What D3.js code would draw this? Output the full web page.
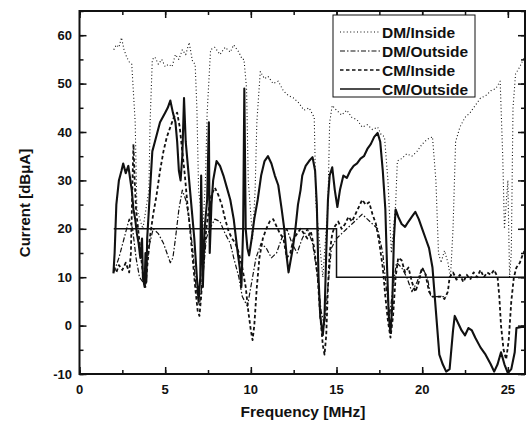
<!DOCTYPE html>
<html><head><meta charset="utf-8">
<script src="https://cdn.jsdelivr.net/npm/d3@7"></script>
<style>body{margin:0;background:#fff}svg{display:block}text{font-family:"Liberation Sans",Arial,sans-serif;font-weight:bold;fill:#111}</style>
</head><body><svg id="c" width="529" height="423"></svg>
<script>
// ---- data ----
const seriesNames = ["DM/Inside", "DM/Outside", "CM/Inside", "CM/Outside"];
const xTicks = [0, 5, 10, 15, 20, 25];
const yTicks = [-10, 0, 10, 20, 30, 40, 50, 60];

const dmInsideF = [2.0,2.15,2.3,2.45,2.6,2.75,2.9,3.05,3.25,3.35,3.7,4.05,4.12,4.25,4.4,4.6,4.8,5.0,5.2,5.4,5.6,5.8,6.0,6.2,6.4,6.6,6.75,6.85,6.95,7.2,7.35,7.45,7.65,7.9,8.2,8.5,8.8,9.0,9.3,9.5,9.6,9.75,9.85,10.1,10.25,10.35,10.55,10.8,11.0,11.3,11.6,11.9,12.2,12.5,12.8,13.1,13.4,13.7,13.8,14.2,14.5,14.6,14.75,15.0,15.3,15.6,15.9,16.2,16.5,16.8,17.1,17.4,17.6,17.8,18.0,18.2,18.45,18.55,18.8,19.1,19.4,19.7,20.0,20.3,20.6,20.8,20.95,21.1,21.3,21.5,21.65,21.8,21.95,22.2,22.5,22.8,23.1,23.4,23.7,24.0,24.3,24.55,24.7,24.8,24.9,25.0,25.1,25.2,25.3,25.45,25.7,25.9,26.0];
const dmInsideV = [57,58,57.5,59.5,57,55.5,54.5,54,42,24,20,28,42,55,55.5,54,55,53.5,54,53.5,56,55,57,56,58.5,54.5,54,45,28,20,30,44,57,57.5,56,57.5,56.5,58,56.5,55,55,49,30,18,28,42,52.5,51,51.5,50,50.5,48.5,47.5,47,46,44.5,45,43,25,10,25,42,45.5,44.5,43.5,44.5,43,42.5,41,41.5,40.5,41,39.5,39,30,15,25,34,34.5,35.5,35,36,37.5,38.5,39,30,15,13,15.5,13,10,20,38,41,43,44,45.5,47,47.5,48.5,49,50.5,35,20,25,30,10,15,45,52,53.5,55,56];

const dmOutsideF = [2.0,2.3,2.6,2.9,3.1,3.3,3.5,3.7,3.9,4.1,4.3,4.6,4.9,5.1,5.3,5.45,5.6,5.8,6.0,6.2,6.4,6.6,6.8,7.0,7.2,7.4,7.6,7.9,8.2,8.5,8.8,9.0,9.3,9.5,9.8,10.0,10.3,10.6,10.9,11.2,11.5,11.8,12.1,12.4,12.7,13.0,13.3,13.6,13.9,14.1,14.3,14.5,14.7,15.0,15.3,15.6,15.9,16.2,16.5,16.8,17.1,17.4,17.7,17.9,18.1,18.3,18.5,18.8,19.1,19.4,19.7,20.0,20.3,20.5,20.8,21.0,21.2,21.4];
const dmOutsideV = [11,14,18,22,20,14,10,9,12,17,20,19,17,15,13,14,18,24,28,26,22,16,8,4,10,18,20,22,21.5,19,17,14,10,6,4,8,14,17,16,14,15,18,20,17,15,18,20,17,10,3,0,8,16,18,19,20,21,22,23,22,21,20,15,8,2,8,13,12,10,7,9,12,10,6,6,6,6,6];

const cmInsideF = [2.0,2.15,2.3,2.5,2.7,2.9,3.0,3.08,3.15,3.22,3.3,3.45,3.6,3.75,3.85,3.95,4.1,4.3,4.5,4.7,4.9,5.1,5.3,5.5,5.7,5.85,6.0,6.15,6.3,6.45,6.6,6.75,6.9,7.0,7.1,7.25,7.4,7.55,7.7,7.9,8.1,8.3,8.5,8.7,8.9,9.1,9.3,9.5,9.7,9.85,10.0,10.1,10.2,10.35,10.5,10.7,10.9,11.1,11.3,11.5,11.7,11.9,12.1,12.3,12.5,12.7,12.9,13.1,13.3,13.5,13.7,13.9,14.05,14.2,14.3,14.4,14.5,14.6,14.75,14.9,15.1,15.3,15.5,15.7,15.9,16.1,16.3,16.5,16.7,16.9,17.1,17.3,17.5,17.7,17.85,18.0,18.15,18.3,18.45,18.6,18.8,19.0,19.2,19.4,19.6,19.8,20.0,20.2,20.4,20.6,20.9,21.1,21.3,21.5,21.6,21.8,22.0,22.2,22.4,22.6,22.8,23.0,23.2,23.4,23.6,23.8,24.0,24.2,24.4,24.5,24.6,24.75,24.9,25.05,25.2,25.35,25.5,25.7,25.9,26.0];
const cmInsideV = [12,11,12.5,11.5,13,11,15,28,37.5,30,24,19,14,9,8,12,18,23,27,32,36,39,41,43,44,41,36,31,25,20,14,8,3,2,6,14,20,24,27,28.5,27,25,22,19.5,18,17,15,12,8,3,-1,-3,0,8,14,18,20,21.5,22,20.5,19,18,14,15,18,19,20,19,18,19.5,16,10,2,-4,-6,-2,8,15,19,20.5,21.5,20,21,22.5,21.5,23,24.5,26,25,25.5,23,21,17,12,6,1,-2.5,2,10,14,13.5,11,12,9,7,9,12,10.5,7,6,6,6,5.5,7,10,11,9.5,10.5,9,10.5,9.5,11,10,11.5,10,11,10.5,11.5,10,6,0,-5,-7,-3,5,10,12,13,15,15.5];

const cmOutsideF = [1.98,2.05,2.15,2.3,2.45,2.55,2.7,2.85,2.95,3.05,3.15,3.25,3.35,3.45,3.55,3.65,3.7,3.8,3.85,3.9,3.95,4.05,4.15,4.25,4.4,4.55,4.7,4.85,5.0,5.15,5.3,5.45,5.6,5.7,5.8,5.9,6.0,6.1,6.2,6.3,6.45,6.55,6.7,6.85,6.95,7.05,7.1,7.2,7.3,7.45,7.55,7.6,7.7,7.8,8.0,8.2,8.4,8.6,8.8,9.0,9.2,9.35,9.45,9.55,9.62,9.7,9.8,9.9,10.05,10.2,10.4,10.6,10.8,11.0,11.2,11.4,11.6,11.8,11.95,12.1,12.2,12.3,12.45,12.6,12.75,12.9,13.0,13.2,13.4,13.6,13.75,13.85,13.95,14.05,14.2,14.3,14.4,14.5,14.6,14.75,14.9,15.05,15.2,15.4,15.6,15.8,16.0,16.2,16.4,16.6,16.8,17.0,17.2,17.4,17.55,17.7,17.85,17.95,18.05,18.15,18.25,18.35,18.45,18.6,18.8,19.0,19.2,19.4,19.6,19.8,20.0,20.2,20.4,20.6,20.8,21.0,21.2,21.4,21.6,21.8,21.9,22.1,22.3,22.5,22.7,22.9,23.1,23.4,23.7,24.0,24.2,24.4,24.6,24.8,25.0,25.2,25.4,25.5,25.8,26.0];
const cmOutsideV = [10.8,15,25,30,32,33.5,31.5,33,30.5,28,24,22,19,17,14,18,10,8,15,9,18,24,30,36,38,40,42,43,44,45,46.5,44,42,38,32,30,35,47,38,34,28,24,18,10,5,10,31,8,20,26,42,15,25,30,34,33,31,28.5,26,22,16,12,8,20,49,20,16,14.5,18,22,26,31,34,35,33.5,31,29,24,20,14,11,13,16,20,25,28,31,33,34,34.8,32,25,10,2,-2,2,15,26,31,32.7,28,24.5,28,31,30.5,32,33,33.5,34.5,35,36.5,37.5,39,39.8,38,32,24,12,2,-1.5,4,18,24,22.5,21,20.4,21.5,22.5,23.5,22,20,18,16,12,3,-6,-8,-9.5,-9,-1,2,0.5,-1,-2,-0.5,-1,-2.5,-4.5,-6,-8,-9.5,-8,-5.5,-8,-9.8,-9,-5.5,-0.5,-0.3,-0.3];

const limitF = [2, 15, 15, 26];
const limitV = [20, 20, 10, 10];

// ---- layout ----
const svg = d3.select("#c");
const x = d3.scaleLinear().domain([0, 26]).range([79.5, 525]);
const y = d3.scaleLinear().domain([-10, 65]).range([374, 11]);

svg.append("clipPath").attr("id","clip").append("rect")
  .attr("x", x(0)).attr("y", y(65)).attr("width", x(26)-x(0)).attr("height", y(-10)-y(65));

const plot = svg.append("g").attr("clip-path","url(#clip)");
const line = d3.line().x(d => x(d[0])).y(d => y(d[1]));
const zip = (f, v) => f.map((d, i) => [d, v[i]]);

const styles = [
  {f: dmInsideF, v: dmInsideV, w: 1.1, dash: "1,2.4"},
  {f: dmOutsideF, v: dmOutsideV, w: 1.2, dash: "5,2,1.5,2"},
  {f: cmInsideF, v: cmInsideV, w: 1.8, dash: "3.5,2.5"},
  {f: cmOutsideF, v: cmOutsideV, w: 2.1, dash: null}
];
styles.forEach(s => {
  plot.append("path").datum(zip(s.f, s.v)).attr("d", line)
    .attr("fill","none").attr("stroke","#111").attr("stroke-width", s.w)
    .attr("stroke-dasharray", s.dash).attr("stroke-linejoin","round");
});
plot.append("path").datum(zip(limitF, limitV)).attr("d", line)
  .attr("fill","none").attr("stroke","#111").attr("stroke-width",1.5);

// axes with inward ticks on all sides
const xMinor = d3.range(0, 26.01, 2.5);
const yMinor = d3.range(-10, 65.01, 5);
const axG = svg.append("g");
const mk = (sel, axis) => { sel.call(axis); sel.select(".domain").remove(); sel.selectAll("line").attr("stroke","#111").attr("stroke-width",1.5); };
mk(axG.append("g").attr("transform",`translate(0,${y(-10)})`), d3.axisTop(x).tickValues(xMinor).tickSize(4).tickFormat(""));
mk(axG.append("g").attr("transform",`translate(0,${y(-10)})`), d3.axisTop(x).tickValues(xTicks).tickSize(7).tickFormat(""));
mk(axG.append("g").attr("transform",`translate(0,${y(65)})`), d3.axisBottom(x).tickValues(xMinor).tickSize(4).tickFormat(""));
mk(axG.append("g").attr("transform",`translate(0,${y(65)})`), d3.axisBottom(x).tickValues(xTicks).tickSize(7).tickFormat(""));
mk(axG.append("g").attr("transform",`translate(${x(0)},0)`), d3.axisRight(y).tickValues(yMinor).tickSize(4).tickFormat(""));
mk(axG.append("g").attr("transform",`translate(${x(0)},0)`), d3.axisRight(y).tickValues(yTicks).tickSize(7).tickFormat(""));
mk(axG.append("g").attr("transform",`translate(${x(26)},0)`), d3.axisLeft(y).tickValues(yMinor).tickSize(4).tickFormat(""));
mk(axG.append("g").attr("transform",`translate(${x(26)},0)`), d3.axisLeft(y).tickValues(yTicks).tickSize(7).tickFormat(""));

svg.append("rect").attr("x", x(0)).attr("y", y(65)).attr("width", x(26)-x(0)).attr("height", y(-10)-y(65))
  .attr("fill","none").attr("stroke","#111").attr("stroke-width",2);

// tick labels
svg.append("g").selectAll("text").data(xTicks).join("text")
  .attr("x", d => x(d)).attr("y", 394).attr("text-anchor","middle").attr("font-size",13).text(d => d);
svg.append("g").selectAll("text").data(yTicks).join("text")
  .attr("x", 72).attr("y", d => y(d) + 4.5).attr("text-anchor","end").attr("font-size",13).text(d => d);

svg.append("text").attr("x", 303).attr("y", 417).attr("text-anchor","middle").attr("font-size",15.5).text("Frequency [MHz]");
svg.append("text").attr("transform","translate(30,203) rotate(-90)").attr("text-anchor","middle").attr("font-size",15).text("Current [dBμA]");

// legend
const lg = svg.append("g");
lg.append("rect").attr("x",333).attr("y",15).attr("width",142).attr("height",82).attr("fill","#fff").attr("stroke","#111").attr("stroke-width",1);
seriesNames.forEach((n, i) => {
  const yy = 32 + i * 19;
  lg.append("line").attr("x1",340).attr("x2",380).attr("y1",yy).attr("y2",yy)
    .attr("stroke","#111").attr("stroke-width", Math.min(styles[i].w, 1.6)).attr("stroke-dasharray", styles[i].dash);
  lg.append("text").attr("x",382).attr("y",yy+5.5).attr("font-size",15.5).text(n);
});
</script></body></html>
